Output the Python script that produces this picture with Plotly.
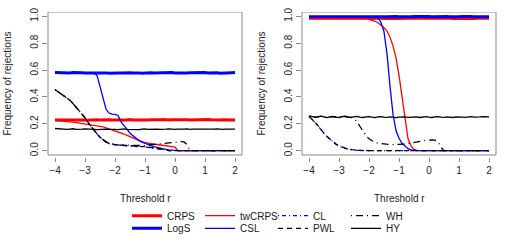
import plotly.graph_objects as go

# Threshold grid
thr = [-4.0,-3.9,-3.8,-3.7,-3.6,-3.5,-3.4,-3.3,-3.2,-3.1,
       -3.0,-2.9,-2.8,-2.7,-2.6,-2.5,-2.4,-2.3,-2.2,-2.1,
       -2.0,-1.9,-1.8,-1.7,-1.6,-1.5,-1.4,-1.3,-1.2,-1.1,
       -1.0,-0.9,-0.8,-0.7,-0.6,-0.5,-0.4,-0.3,-0.2,-0.1,
       0.0,0.1,0.2,0.3,0.4,0.5,0.6,0.7,0.8,0.9,
       1.0,1.1,1.2,1.3,1.4,1.5,1.6,1.7,1.8,1.9,2.0]

x_ticks = [-4, -3, -2, -1, 0, 1, 2]
y_ticks = [0.0, 0.2, 0.4, 0.6, 0.8, 1.0]

# ---------------- Left panel ----------------
crps_L = [0.229,0.231,0.229,0.228,0.230,0.232,0.229,0.228,0.230,0.231,
          0.229,0.227,0.229,0.231,0.230,0.228,0.230,0.232,0.230,0.228,
          0.229,0.231,0.229,0.227,0.230,0.232,0.229,0.228,0.230,0.229,
          0.227,0.229,0.231,0.230,0.228,0.230,0.232,0.229,0.228,0.230,
          0.231,0.229,0.230,0.233,0.230,0.228,0.229,0.231,0.229,0.228,
          0.230,0.232,0.230,0.229,0.225,0.228,0.230,0.229,0.231,0.230,0.229]
logs_L = [0.581,0.580,0.582,0.583,0.581,0.578,0.581,0.582,0.579,0.580,
          0.578,0.580,0.581,0.579,0.578,0.580,0.582,0.579,0.577,0.579,
          0.581,0.579,0.578,0.580,0.581,0.580,0.578,0.580,0.579,0.576,
          0.578,0.580,0.580,0.578,0.579,0.581,0.580,0.578,0.580,0.582,
          0.579,0.578,0.580,0.581,0.579,0.580,0.581,0.579,0.578,0.580,
          0.581,0.579,0.580,0.581,0.580,0.577,0.579,0.581,0.582,0.580,0.581]
twcrps_L = [0.225,0.224,0.222,0.220,0.218,0.215,0.212,0.209,0.206,0.203,
            0.200,0.198,0.195,0.192,0.189,0.185,0.178,0.170,0.163,0.156,
            0.149,0.142,0.133,0.124,0.114,0.104,0.094,0.084,0.075,0.067,
            0.060,0.055,0.051,0.048,0.046,0.044,0.041,0.038,0.035,0.031,
            0.027,0.0,0.0,0.0,0.0,0.0,0.0,0.0,0.0,0.0,
            0.0,0.0,0.0,0.0,0.0,0.0,0.0,0.0,0.0,0.0,0.0]
csl_L = [0.581,0.580,0.582,0.583,0.580,0.578,0.581,0.582,0.579,0.580,
         0.578,0.579,0.580,0.578,0.560,0.480,0.390,0.310,0.280,0.272,
         0.270,0.262,0.215,0.190,0.160,0.130,0.110,0.090,0.075,0.063,
         0.053,0.045,0.037,0.030,0.024,0.018,0.013,0.009,0.006,0.003,
         0.001,0.0,0.0,0.0,0.0,0.0,0.0,0.0,0.0,0.0,
         0.0,0.0,0.0,0.0,0.0,0.0,0.0,0.0,0.0,0.0,0.0]
cl_L = [0.455,0.440,0.425,0.410,0.395,0.375,0.350,0.325,0.300,0.275,
        0.245,0.210,0.180,0.150,0.125,0.100,0.080,0.064,0.053,0.046,
        0.043,0.041,0.040,0.039,0.038,0.037,0.036,0.035,0.033,0.031,
        0.028,0.025,0.021,0.017,0.013,0.009,0.005,0.003,0.001,0.0,
        0.0,0.0,0.0,0.0,0.0,0.0,0.0,0.0,0.0,0.0,
        0.0,0.0,0.0,0.0,0.0,0.0,0.0,0.0,0.0,0.0,0.0]
pwl_L = [0.455,0.440,0.425,0.410,0.395,0.375,0.350,0.325,0.300,0.275,
         0.245,0.210,0.180,0.150,0.125,0.100,0.080,0.065,0.055,0.048,
         0.045,0.043,0.042,0.041,0.040,0.039,0.038,0.036,0.035,0.033,
         0.030,0.027,0.023,0.019,0.014,0.010,0.006,0.003,0.001,0.0,
         0.0,0.0,0.0,0.0,0.0,0.0,0.0,0.0,0.0,0.0,
         0.0,0.0,0.0,0.0,0.0,0.0,0.0,0.0,0.0,0.0,0.0]
wh_L = [0.455,0.440,0.425,0.410,0.395,0.375,0.350,0.325,0.300,0.275,
        0.245,0.210,0.180,0.150,0.125,0.100,0.080,0.065,0.055,0.048,
        0.045,0.043,0.042,0.041,0.040,0.039,0.038,0.036,0.035,0.035,
        0.038,0.042,0.045,0.048,0.050,0.052,0.054,0.056,0.058,0.060,
        0.063,0.066,0.068,0.065,0.045,0.0,0.0,0.0,0.0,0.0,
        0.0,0.0,0.0,0.0,0.0,0.0,0.0,0.0,0.0,0.0,0.0]
hy_L = [0.165,0.163,0.160,0.162,0.158,0.161,0.163,0.159,0.157,0.160,
        0.162,0.159,0.161,0.158,0.156,0.159,0.162,0.160,0.158,0.161,
        0.159,0.157,0.160,0.162,0.159,0.158,0.161,0.159,0.157,0.160,
        0.162,0.158,0.160,0.159,0.161,0.158,0.157,0.160,0.162,0.159,
        0.158,0.161,0.159,0.160,0.162,0.158,0.160,0.159,0.157,0.160,
        0.161,0.159,0.158,0.160,0.162,0.159,0.158,0.160,0.161,0.159,0.160]

# ---------------- Right panel ----------------
crps_R = [0.985,0.987,0.984,0.986,0.988,0.985,0.983,0.986,0.987,0.984,
          0.985,0.988,0.986,0.984,0.985,0.987,0.985,0.983,0.986,0.988,
          0.985,0.984,0.986,0.987,0.985,0.983,0.985,0.987,0.986,0.984,
          0.985,0.987,0.985,0.984,0.986,0.988,0.985,0.983,0.986,0.985,
          0.987,0.984,0.986,0.985,0.983,0.986,0.988,0.985,0.984,0.986,
          0.985,0.987,0.984,0.986,0.985,0.983,0.986,0.987,0.985,0.984,0.986]
logs_R = [0.997,0.998,0.996,0.997,0.999,0.997,0.996,0.998,0.997,0.996,
          0.998,0.997,0.996,0.998,0.999,0.997,0.996,0.997,0.998,0.996,
          0.997,0.999,0.997,0.996,0.998,0.997,0.996,0.998,0.997,0.999,
          0.997,0.996,0.998,0.997,0.996,0.998,0.999,0.997,0.996,0.997,
          0.998,0.996,0.997,0.999,0.997,0.996,0.998,0.997,0.996,0.998,
          0.997,0.999,0.997,0.996,0.998,0.997,0.996,0.998,0.997,0.996,0.997]
twcrps_R = [0.985,0.985,0.984,0.985,0.985,0.984,0.985,0.985,0.984,0.985,
            0.985,0.984,0.985,0.985,0.984,0.985,0.984,0.984,0.983,0.982,
            0.978,0.972,0.963,0.952,0.935,0.915,0.890,0.845,0.780,0.690,
            0.560,0.410,0.245,0.090,0.035,0.008,0.002,0.0,0.0,0.0,
            0.0,0.0,0.0,0.0,0.0,0.0,0.0,0.0,0.0,0.0,
            0.0,0.0,0.0,0.0,0.0,0.0,0.0,0.0,0.0,0.0,0.0]
csl_R = [0.997,0.997,0.996,0.997,0.997,0.996,0.997,0.997,0.996,0.997,
         0.997,0.996,0.997,0.997,0.996,0.997,0.997,0.996,0.997,0.997,
         0.996,0.996,0.995,0.990,0.955,0.885,0.720,0.480,0.270,0.150,
         0.092,0.055,0.033,0.015,0.006,0.002,0.0,0.0,0.0,0.0,
         0.0,0.0,0.0,0.0,0.0,0.0,0.0,0.0,0.0,0.0,
         0.0,0.0,0.0,0.0,0.0,0.0,0.0,0.0,0.0,0.0,0.0]
cl_R = [0.255,0.235,0.210,0.185,0.155,0.128,0.105,0.085,0.065,0.048,
        0.035,0.025,0.018,0.012,0.008,0.005,0.003,0.002,0.001,0.0,
        0.0,0.0,0.0,0.0,0.0,0.0,0.0,0.0,0.0,0.0,
        0.0,0.0,0.0,0.0,0.0,0.0,0.0,0.0,0.0,0.0,
        0.0,0.0,0.0,0.0,0.0,0.0,0.0,0.0,0.0,0.0,
        0.0,0.0,0.0,0.0,0.0,0.0,0.0,0.0,0.0,0.0,0.0]
pwl_R = [0.255,0.236,0.212,0.186,0.156,0.129,0.106,0.086,0.066,0.049,
         0.036,0.026,0.018,0.012,0.008,0.005,0.003,0.002,0.001,0.0,
         0.0,0.0,0.0,0.0,0.0,0.0,0.0,0.0,0.0,0.0,
         0.0,0.0,0.0,0.0,0.0,0.0,0.0,0.0,0.0,0.0,
         0.0,0.0,0.0,0.0,0.0,0.0,0.0,0.0,0.0,0.0,
         0.0,0.0,0.0,0.0,0.0,0.0,0.0,0.0,0.0,0.0,0.0]
wh_R = [0.255,0.252,0.248,0.251,0.256,0.250,0.246,0.252,0.254,0.249,
        0.247,0.252,0.255,0.250,0.248,0.240,0.215,0.180,0.145,0.112,
        0.088,0.072,0.062,0.056,0.052,0.048,0.046,0.045,0.045,0.045,
        0.046,0.047,0.049,0.053,0.058,0.063,0.066,0.068,0.073,0.077,
        0.080,0.081,0.078,0.065,0.025,0.0,0.0,0.0,0.0,0.0,
        0.0,0.0,0.0,0.0,0.0,0.0,0.0,0.0,0.0,0.0,0.0]
hy_R = [0.258,0.254,0.250,0.253,0.257,0.251,0.246,0.252,0.255,0.249,
        0.247,0.253,0.256,0.251,0.248,0.252,0.255,0.250,0.247,0.251,
        0.254,0.249,0.246,0.251,0.254,0.250,0.248,0.252,0.249,0.246,
        0.250,0.253,0.251,0.248,0.250,0.254,0.251,0.247,0.250,0.253,
        0.249,0.247,0.251,0.254,0.250,0.248,0.252,0.249,0.247,0.251,
        0.253,0.250,0.248,0.251,0.254,0.250,0.248,0.251,0.253,0.250,0.252]

RED = "#FF0000"
BLUE = "#0000FF"
BLACK = "#000000"

styles = [
    # name, color, width, dash, legend
    ("CRPS",   RED,   3.0, "solid",             "legend"),
    ("LogS",   BLUE,  3.0, "solid",             "legend2"),
    ("twCRPS", RED,   1.3, "solid",             "legend"),
    ("CSL",    BLUE,  1.3, "solid",             "legend2"),
    ("CL",     BLUE,  1.3, "1px,3px,4px,3px",   "legend"),
    ("PWL",    BLACK, 1.3, "5px,4px",           "legend2"),
    ("WH",     BLACK, 1.3, "1px,4px,7px,4px",   "legend"),
    ("HY",     BLACK, 1.3, "solid",             "legend2"),
]
left_data = {"CRPS": crps_L, "LogS": logs_L, "twCRPS": twcrps_L, "CSL": csl_L,
             "CL": cl_L, "PWL": pwl_L, "WH": wh_L, "HY": hy_L}
right_data = {"CRPS": crps_R, "LogS": logs_R, "twCRPS": twcrps_R, "CSL": csl_R,
              "CL": cl_R, "PWL": pwl_R, "WH": wh_R, "HY": hy_R}

fig = go.Figure()
for name, col, w, dash, lg in styles:
    fig.add_trace(go.Scatter(x=thr, y=left_data[name], mode="lines", name=name,
                             line=dict(color=col, width=w, dash=dash), hoverinfo="skip",
                             legend=lg, showlegend=True, xaxis="x", yaxis="y"))
for name, col, w, dash, lg in styles:
    fig.add_trace(go.Scatter(x=thr, y=right_data[name], mode="lines", name=name,
                             line=dict(color=col, width=w, dash=dash), hoverinfo="skip",
                             legend=lg, showlegend=False, xaxis="x2", yaxis="y2"))

W, H = 508, 240
FONT = "Liberation Sans, Arial, Helvetica, sans-serif"
GRAY = "#8a8a8a"
TXT = "#1a1a1a"

y_bottom_px, y_top_px = 157, 12
ydom = [(H - y_bottom_px) / H, (H - y_top_px) / H]
xr = [-4.2333, 2.2333]
yr = [-0.047, 1.032]

common_x = dict(range=xr, tickvals=x_ticks, ticks="outside", ticklen=4, tickwidth=1,
                tickcolor=GRAY, showline=False, showgrid=False, zeroline=False,
                automargin=False, tickfont=dict(size=10, color=TXT, family=FONT))
common_y = dict(range=yr, tickvals=y_ticks, tickformat=".1f", ticks="outside", ticklen=5,
                tickwidth=1, tickcolor=GRAY, showline=False, showgrid=False, zeroline=False,
                automargin=False, tickangle=-90, tickfont=dict(size=10, color=TXT, family=FONT))

fig.update_layout(
    template="none",
    width=W, height=H,
    margin=dict(l=0, r=0, t=0, b=0, autoexpand=False),
    paper_bgcolor="white", plot_bgcolor="white",
    hovermode=False,
    font=dict(family=FONT, size=10, color=TXT),
    xaxis=dict(domain=[48 / W, 242 / W], anchor="y", **common_x),
    yaxis=dict(domain=ydom, anchor="x", **common_y),
    xaxis2=dict(domain=[302 / W, 496 / W], anchor="y2", **common_x),
    yaxis2=dict(domain=ydom, anchor="x2", **common_y),
    legend=dict(orientation="h", x=127 / W, xanchor="left", y=(H - 215.7) / H, yanchor="middle",
                entrywidth=28, entrywidthmode="pixels", bgcolor="rgba(0,0,0,0)", borderwidth=0,
                font=dict(size=10, color=TXT, family=FONT), tracegroupgap=0),
    legend2=dict(orientation="h", x=127 / W, xanchor="left", y=(H - 228.3) / H, yanchor="middle",
                 entrywidth=28, entrywidthmode="pixels", bgcolor="rgba(0,0,0,0)", borderwidth=0,
                 font=dict(size=10, color=TXT, family=FONT), tracegroupgap=0),
)

# plot boxes
for xd, ya in (("x domain", "y"), ("x2 domain", "y2")):
    fig.add_shape(type="rect", xref=xd, yref=ya, x0=0, x1=1, y0=-0.032, y1=1.032,
                  line=dict(color=GRAY, width=1), fillcolor="rgba(0,0,0,0)", layer="above")

# axis titles
for cx in (145, 399):
    fig.add_annotation(text="Threshold r", xref="paper", yref="paper", x=cx / W, y=(H - 198) / H,
                       xanchor="center", yanchor="middle", showarrow=False,
                       font=dict(size=10, color=TXT, family=FONT))
for cx in (7, 261):
    fig.add_annotation(text="Frequency of rejections", xref="paper", yref="paper", x=cx / W,
                       y=(H - 83.5) / H, xanchor="center", yanchor="middle", textangle=-90,
                       showarrow=False, font=dict(size=10, color=TXT, family=FONT))

fig.write_html("out.html",
               config={"displayModeBar": False, "staticPlot": True},
               post_script="document.body.style.margin='0';document.body.style.padding='0';")
